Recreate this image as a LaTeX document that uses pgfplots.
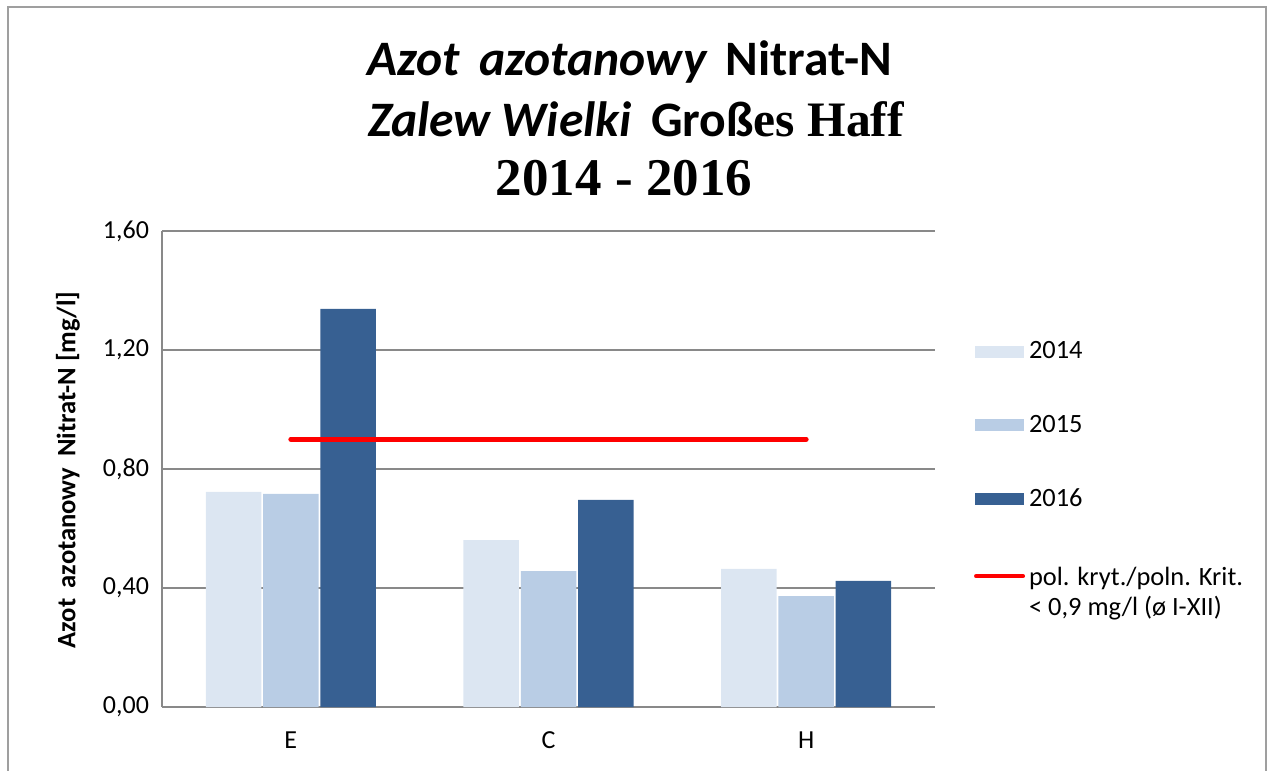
\documentclass[border=0pt]{standalone}
\usepackage{pgfplots}
\pgfplotsset{compat=1.18}
\usepackage{fontspec}
\setmainfont{Carlito}
\newfontfamily\timesf{Liberation Serif}
\definecolor{c14}{HTML}{DCE6F2}
\definecolor{c15}{HTML}{B9CDE5}
\definecolor{c16}{HTML}{376092}
\definecolor{gridc}{HTML}{898989}
\begin{document}
\begin{tikzpicture}
\useasboundingbox (0,0) rectangle (634.5pt,-385.5pt);
\begin{scope}
\clip (0,0) rectangle (634.5pt,-385.5pt);
\draw[gray!75, line width=0.6pt] (4pt,-3.5pt) rectangle (633pt,-400pt);
\end{scope}
\node[font=\fontsize{24.8}{28}\selectfont\bfseries] at (315pt,-31pt) {\itshape Azot\, azotanowy\, \upshape Nitrat-N};
\node[font=\fontsize{24.8}{28}\selectfont\bfseries] at (318pt,-59.5pt) {\itshape Zalew Wielki\, \upshape Gro\ss{\timesf es Haff}};
\node[font=\fontsize{26.5}{30}\selectfont\bfseries\timesf] at (312pt,-89pt) {2014 - 2016};
\begin{axis}[
  at={(81pt,-353.5pt)}, anchor=south west,
  scale only axis, width=386.5pt, height=238pt,
  xmin=-0.5, xmax=2.5, ymin=0, ymax=1.6,
  xtick={0,1,2}, xticklabels={E,C,H},
  ytick={0,0.4,0.8,1.2,1.6},
  major tick length=0pt,
  axis lines*=left,
  axis line style={draw=gridc, line width=0.75pt},
  ymajorgrids, grid style={draw=gridc, line width=0.75pt},
  tick label style={font=\fontsize{13}{15}\selectfont},
  yticklabel style={xshift=-3pt},
  xticklabel style={yshift=-9pt},
  /pgf/number format/.cd, use comma, fixed, fixed zerofill, precision=2, assume math mode=true,
  /pgfplots/.cd,
  ylabel={Azot\, azotanowy\, Nitrat-N [mg/l]},
  ylabel style={at={(axis description cs:-0.1216,0.498)}, anchor=center, font=\bfseries\fontsize{13.3}{16}\selectfont},
  legend style={draw=none, fill=none, at={(axis description cs:1.05,0.777)}, anchor=north west,
    font=\fontsize{13.2}{16}\selectfont, row sep=22.8pt, inner sep=0pt,
    nodes={inner sep=2pt}},
  legend cell align=left,
]
\addplot[ybar, bar width=0.2154, bar shift=-0.2224, fill=c14, draw=none,
  legend image code/.code={\fill[c14] (0pt,-3pt) rectangle (24.5pt,3pt);}]
  coordinates {(0,0.723) (1,0.561) (2,0.464)};
\addlegendentry{2014}
\addplot[ybar, bar width=0.2154, bar shift=0, fill=c15, draw=none,
  legend image code/.code={\fill[c15] (0pt,-3pt) rectangle (24.5pt,3pt);}]
  coordinates {(0,0.716) (1,0.457) (2,0.373)};
\addlegendentry{2015}
\addplot[ybar, bar width=0.2154, bar shift=0.2224, fill=c16, draw=none,
  legend image code/.code={\fill[c16] (0pt,-3pt) rectangle (24.5pt,3pt);}]
  coordinates {(0,1.338) (1,0.696) (2,0.424)};
\addlegendentry{2016}
\addplot[red, line width=2.5pt, line cap=round, mark=none,
  legend image code/.code={\draw[red, line width=2pt, line cap=round] (0.5pt,0pt) -- (24pt,0pt);}]
  coordinates {(0,0.9) (2,0.9)};
\addlegendentry{\begin{tabular}[t]{@{}l@{}}pol. kryt./poln. Krit.\\[-1pt] < 0,9 mg/l (ø I-XII)\end{tabular}}
\end{axis}
\end{tikzpicture}
\end{document}
